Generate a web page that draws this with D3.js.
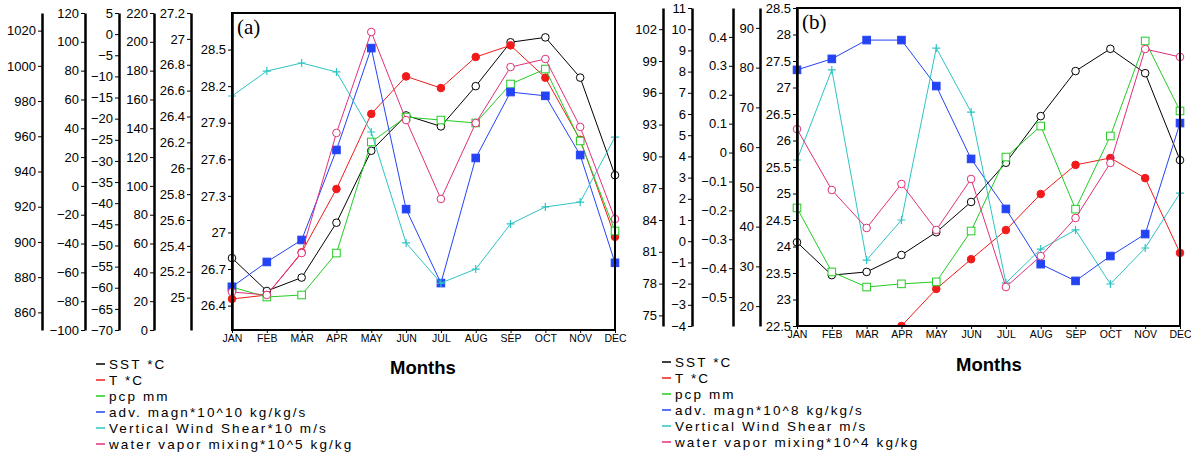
<!DOCTYPE html>
<html>
<head>
<meta charset="utf-8">
<script src="https://cdn.jsdelivr.net/npm/d3@7"></script>
<style>
body { margin: 0; background: #fff; }
svg { display: block; font-family: "Liberation Sans", Arial, sans-serif; }
.axis text { font-size: 13px; fill: #000; }
.axis line { stroke: #000; stroke-width: 1; }
.axis path { stroke: #000; stroke-width: 2.5; }
.months text { font-size: 10.5px; fill: #000; }
.months line { stroke: #000; }
.legend text { font-size: 13.5px; letter-spacing: 2.1px; fill: #000; }
</style>
</head>
<body>
<svg id="chart" width="1191" height="454"></svg>
<script>
var months = ["JAN", "FEB", "MAR", "APR", "MAY", "JUN", "JUL", "AUG", "SEP", "OCT", "NOV", "DEC"];

// panel (a)
var sstA = [26.79, 26.52, 26.63, 27.08, 27.67, 27.96, 27.87, 28.20, 28.56, 28.60, 28.27, 27.47];
var tA   = [24.99, 25.02, 25.35, 25.84, 26.42, 26.71, 26.62, 26.86, 26.95, 26.70, 26.22, 25.47];
var pcpA = [29.8, 22.9, 24.3, 53.4, 130.5, 147.8, 145.7, 143.7, 170.7, 181.1, 131.2, 68.7];
var advA = [-59.8, -53.9, -48.7, -27.4, -3.3, -41.4, -58.9, -29.3, -13.7, -14.6, -28.6, -54.1];
var vwsA = [62.4, 79.7, 85.3, 79.1, 37.4, -39.6, -67.4, -57.7, -26.4, -14.6, -11.2, 33.9];
var wvA  = [871.6, 869.9, 893.7, 961.9, 1019.2, 969.2, 924.4, 967.5, 999.3, 1003.9, 965.3, 913.0];

// panel (b)  (T below the axis for JAN-MAR, not readable)
var sstB = [24.08, 23.46, 23.52, 23.84, 24.27, 24.84, 25.58, 26.46, 27.31, 27.73, 27.27, 25.63];
var tB   = [null, null, null, 22.50, 23.20, 23.76, 24.31, 24.99, 25.54, 25.67, 25.29, 23.88];
var pcpB = [44.7, 28.6, 24.8, 25.6, 26.1, 38.9, 57.5, 65.3, 44.4, 62.8, 86.7, 69.1];
var advB = [0.286, 0.324, 0.389, 0.389, 0.230, -0.022, -0.195, -0.386, -0.444, -0.358, -0.282, 0.102];
var vwsB = [3.83, 8.08, -0.89, 1.00, 9.11, 6.09, -1.97, -0.37, 0.53, -2.02, -0.32, 2.27];
var wvB  = [92.58, 86.83, 83.25, 87.40, 83.06, 87.87, 77.68, 80.60, 84.19, 89.38, 100.13, 99.38];

// tick labels
var ticksWvA  = [860, 880, 900, 920, 940, 960, 980, 1000, 1020];
var ticksVwsA = [-100, -80, -60, -40, -20, 0, 20, 40, 60, 80, 100, 120];
var ticksAdvA = [-70, -65, -60, -55, -50, -45, -40, -35, -30, -25, -20, -15, -10, -5, 0, 5];
var ticksPcpA = [0, 20, 40, 60, 80, 100, 120, 140, 160, 180, 200, 220];
var ticksTA   = [25, 25.2, 25.4, 25.6, 25.8, 26, 26.2, 26.4, 26.6, 26.8, 27, 27.2];
var ticksSstA = [26.4, 26.7, 27, 27.3, 27.6, 27.9, 28.2, 28.5];

var ticksWvB  = [75, 78, 81, 84, 87, 90, 93, 96, 99, 102];
var ticksVwsB = [-4, -3, -2, -1, 0, 1, 2, 3, 4, 5, 6, 7, 8, 9, 10, 11];
var ticksAdvB = [-0.5, -0.4, -0.3, -0.2, -0.1, 0, 0.1, 0.2, 0.3, 0.4];
var ticksPcpB = [20, 30, 40, 50, 60, 70, 80, 90];
var ticksSstB = [22.5, 23, 23.5, 24, 24.5, 25, 25.5, 26, 26.5, 27, 27.5, 28, 28.5];

var legendA = ["SST *C", "T *C", "pcp mm", "adv. magn*10^10 kg/kg/s",
    "Vertical Wind Shear*10 m/s", "water vapor mixing*10^5 kg/kg"];
var legendB = ["SST *C", "T *C", "pcp mm", "adv. magn*10^8 kg/kg/s",
    "Vertical Wind Shear m/s", "water vapor mixing*10^4 kg/kg"];

var colors = ["#000000", "#f21b1b", "#22cc22", "#2443f5", "#2ec4c4", "#e0307a"];
var markers = ["circleOpen", "circleFill", "squareOpen", "squareFill", "plus", "circleOpen"];

var svg = d3.select("#chart");
var fmt = d3.format("~g");

var panels = [
    {
        id: "a", x0: 232, x1: 615, y0: 13, y1: 330, label: "(a)",
        legendX: 96, legendY: 364, monthsX: 390, monthsY: 374, legend: legendA,
        // outer axes, left to right; the last one is the plot's own axis
        axes: [
            {x: 42, domain: [850, 1030], ticks: ticksWvA},
            {x: 85, domain: [-100, 120], ticks: ticksVwsA},
            {x: 119, domain: [-70, 5], ticks: ticksAdvA},
            {x: 154, domain: [0, 220], ticks: ticksPcpA},
            {x: 191, domain: [24.75, 27.2], ticks: ticksTA},
            {x: 232, domain: [26.2, 28.8], ticks: ticksSstA}
        ],
        // series -> axis index
        series: [[sstA, 5], [tA, 4], [pcpA, 3], [advA, 2], [vwsA, 1], [wvA, 0]]
    },
    {
        id: "b", x0: 797, x1: 1180, y0: 8, y1: 326, label: "(b)",
        legendX: 662, legendY: 362, monthsX: 956, monthsY: 371, legend: legendB,
        axes: [
            {x: 663, domain: [74, 104], ticks: ticksWvB},
            {x: 692, domain: [-4, 11], ticks: ticksVwsB},
            {x: 733, domain: [-0.6, 0.5], ticks: ticksAdvB},
            {x: 760, domain: [15, 95], ticks: ticksPcpB},
            {x: 797, domain: [22.5, 28.5], ticks: ticksSstB}
        ],
        series: [[sstB, 4], [tB, 4], [pcpB, 3], [advB, 2], [vwsB, 1], [wvB, 0]]
    }
];

panels.forEach(function(p) {
    var g = svg.append("g");

    var xScale = d3.scalePoint().domain(months).range([p.x0, p.x1]).padding(0);

    var scales = p.axes.map(function(a) {
        return d3.scaleLinear().domain(a.domain).range([p.y1, p.y0]);
    });

    g.append("clipPath").attr("id", "clip-" + p.id)
        .append("rect")
        .attr("x", p.x0 - 6).attr("y", p.y0)
        .attr("width", p.x1 - p.x0 + 12).attr("height", p.y1 - p.y0);

    // series
    p.series.forEach(function(s, i) {
        var data = s[0], y = scales[s[1]], color = colors[i];
        var line = d3.line()
            .defined(function(d) { return d != null; })
            .x(function(d, j) { return xScale(months[j]); })
            .y(function(d) { return y(d); });

        var sg = g.append("g").attr("clip-path", "url(#clip-" + p.id + ")");
        sg.append("path")
            .attr("d", line(data))
            .attr("fill", "none")
            .attr("stroke", color)
            .attr("stroke-width", 1);

        var pts = data.map(function(d, j) { return {v: d, m: months[j]}; })
            .filter(function(d) { return d.v != null; });
        var m = markers[i];
        var sel = sg.selectAll(".pt").data(pts).enter();
        if (m == "circleOpen" || m == "circleFill") {
            sel.append("circle")
                .attr("cx", function(d) { return xScale(d.m); })
                .attr("cy", function(d) { return y(d.v); })
                .attr("r", 3.8)
                .attr("fill", m == "circleFill" ? color : "#fff")
                .attr("stroke", color)
                .attr("stroke-width", 1);
        } else if (m == "squareOpen" || m == "squareFill") {
            sel.append("rect")
                .attr("x", function(d) { return xScale(d.m) - 3.8; })
                .attr("y", function(d) { return y(d.v) - 3.8; })
                .attr("width", 7.6).attr("height", 7.6)
                .attr("fill", m == "squareFill" ? color : "#fff")
                .attr("stroke", color)
                .attr("stroke-width", 1);
        } else {
            sel.append("path")
                .attr("d", function(d) {
                    var cx = xScale(d.m), cy = y(d.v), r = 4;
                    return "M" + (cx - r) + "," + cy + "h" + (2 * r) + "M" + cx + "," + (cy - r) + "v" + (2 * r);
                })
                .attr("stroke", color)
                .attr("stroke-width", 1.2)
                .attr("fill", "none");
        }
    });

    // plot frame
    g.append("rect")
        .attr("x", p.x0).attr("y", p.y0)
        .attr("width", p.x1 - p.x0).attr("height", p.y1 - p.y0)
        .attr("fill", "none")
        .attr("stroke", "#000")
        .attr("stroke-width", 2);

    // y axes
    p.axes.forEach(function(a, i) {
        var ax = d3.axisLeft(scales[i])
            .tickValues(a.ticks)
            .tickFormat(fmt)
            .tickSize(4)
            .tickSizeOuter(0)
            .tickPadding(2);
        var ag = g.append("g")
            .attr("class", "axis")
            .attr("transform", "translate(" + a.x + ",0)")
            .call(ax);
        if (a.x == p.x0) ag.select(".domain").attr("stroke-width", 2);
    });

    // month axis
    var mx = g.append("g")
        .attr("class", "months")
        .attr("transform", "translate(0," + p.y1 + ")")
        .call(d3.axisBottom(xScale).tickSize(3).tickPadding(2));
    mx.select(".domain").remove();

    g.append("text")
        .attr("x", p.x0 + 5).attr("y", p.y0 + 21)
        .attr("font-family", "'Liberation Serif', 'DejaVu Serif', serif")
        .attr("font-size", 21)
        .text(p.label);

    g.append("text")
        .attr("x", p.monthsX).attr("y", p.monthsY)
        .attr("font-size", 18.5)
        .attr("font-weight", "bold")
        .text("Months");

    var lg = g.append("g").attr("class", "legend");
    p.legend.forEach(function(t, i) {
        var yy = p.legendY + i * 16;
        lg.append("line")
            .attr("x1", p.legendX).attr("x2", p.legendX + 9)
            .attr("y1", yy).attr("y2", yy)
            .attr("stroke", colors[i])
            .attr("stroke-width", 1.5);
        lg.append("text")
            .attr("x", p.legendX + 13).attr("y", yy + 5)
            .text(t);
    });
});
</script>
</body>
</html>
